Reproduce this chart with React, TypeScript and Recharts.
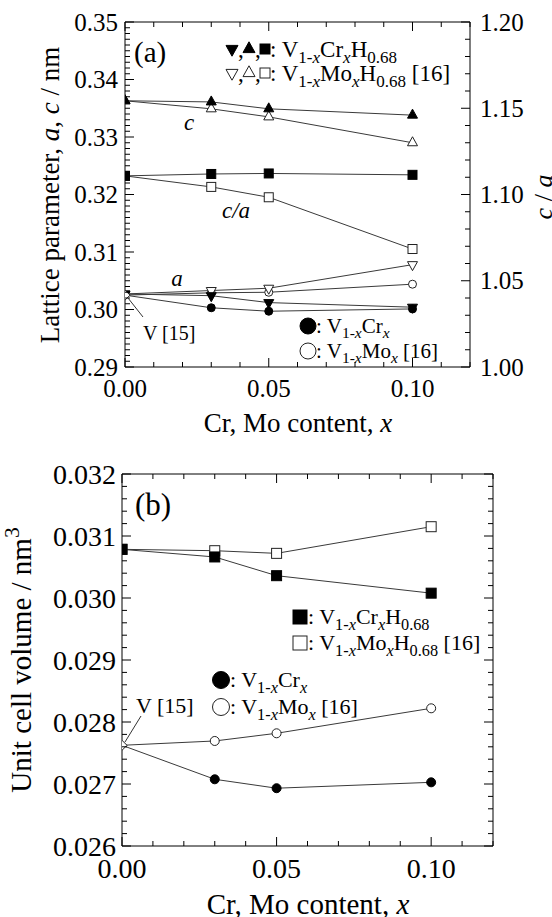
import React from 'react';
import { LineChart, Line, XAxis, YAxis } from 'recharts';

const FONT = 'Liberation Serif, Times New Roman, Times, serif';
const LINE = '#3a3a3a';

// ---------- shared x ----------
const contentX = [0, 0.03, 0.05, 0.1];
const xDomain: [number, number] = [0, 0.12];
const xMajor = [0, 0.05, 0.1];
const xMinorStep = 0.01;

// ---------- panel (a): lattice parameters ----------
const cCrH = [0.3363, 0.3361, 0.3349, 0.3338];
const cMoH = [0.3363, 0.3349, 0.3335, 0.329];
const caCrH = [1.1108, 1.1119, 1.1122, 1.1114];
const caMoH = [1.1108, 1.1044, 1.0984, 1.0684];
const aCrH = [0.3027, 0.3024, 0.3012, 0.3004];
const aMoH = [0.3027, 0.3033, 0.3037, 0.3078];
const aCr = [0.3025, 0.3003, 0.2997, 0.3001];
const aMo = [0.3025, 0.3029, 0.303, 0.3044];
const aPureV = 0.3025;
const aLeftMajor = [0.29, 0.3, 0.31, 0.32, 0.33, 0.34, 0.35];
const aLeftMinorStep = 0.001;
const aRightMajor = [1.0, 1.05, 1.1, 1.15, 1.2];
const aRightMinorStep = 0.01;

// ---------- panel (b): unit cell volume ----------
const vCrH = [0.030785, 0.030662, 0.03036, 0.030078];
const vMoH = [0.030785, 0.030763, 0.03072, 0.03115];
const vCr = [0.027624, 0.027076, 0.026932, 0.027027];
const vMo = [0.027624, 0.027694, 0.027818, 0.028221];
const vPureV = 0.027624;
const bLeftMajor = [0.026, 0.027, 0.028, 0.029, 0.03, 0.031, 0.032];
const bLeftMinorStep = 0.0002;

const range = (lo: number, hi: number, step: number) => {
  const out: number[] = [];
  const n = Math.round((hi - lo) / step);
  for (let i = 0; i <= n; i++) out.push(Number((lo + i * step).toFixed(6)));
  return out;
};

const dataA = contentX.map((x, i) => ({
  x,
  cCrH: cCrH[i],
  cMoH: cMoH[i],
  caCrH: caCrH[i],
  caMoH: caMoH[i],
  aCrH: aCrH[i],
  aMoH: aMoH[i],
  aCr: aCr[i],
  aMo: aMo[i],
  pure: i === 0 ? aPureV : null,
}));

const dataB = contentX.map((x, i) => ({
  x,
  vCrH: vCrH[i],
  vMoH: vMoH[i],
  vCr: vCr[i],
  vMo: vMo[i],
  pure: i === 0 ? vPureV : null,
}));

// ---------- markers ----------
type Shape = 'up' | 'down' | 'square' | 'circle' | 'diamond';
const Marker = ({ cx, cy, shape, filled, size }: any) => {
  const fill = filled ? '#000' : '#fff';
  const stroke = filled ? '#000' : '#222';
  const s = size;
  if (shape === 'square')
    return <rect x={cx - s / 2} y={cy - s / 2} width={s} height={s} fill={fill} stroke={stroke} strokeWidth={1} />;
  if (shape === 'circle') return <circle cx={cx} cy={cy} r={s / 2} fill={fill} stroke={stroke} strokeWidth={1} />;
  if (shape === 'diamond') {
    const r = s / 2;
    return (
      <polygon
        points={`${cx},${cy - r} ${cx + r},${cy} ${cx},${cy + r} ${cx - r},${cy}`}
        fill={fill}
        stroke={stroke}
        strokeWidth={1}
      />
    );
  }
  const h = s * 0.9;
  if (shape === 'up')
    return (
      <polygon
        points={`${cx},${cy - (h * 2) / 3} ${cx + s / 2},${cy + h / 3} ${cx - s / 2},${cy + h / 3}`}
        fill={fill}
        stroke={stroke}
        strokeWidth={1}
      />
    );
  return (
    <polygon
      points={`${cx},${cy + (h * 2) / 3} ${cx + s / 2},${cy - h / 3} ${cx - s / 2},${cy - h / 3}`}
      fill={fill}
      stroke={stroke}
      strokeWidth={1}
    />
  );
};

const dotR = (shape: Shape, filled: boolean, size: number, skipFirst = false) => (p: any) => {
  const key = `${shape}-${filled}-${p.index}-${p.dataKey}`;
  if (p.cx == null || p.cy == null || p.value == null || (skipFirst && p.index === 0)) return <g key={key} />;
  return (
    <g key={key}>
      <Marker cx={p.cx} cy={p.cy} shape={shape} filled={filled} size={size} />
    </g>
  );
};

// ---------- ticks ----------
const isMajor = (v: number, majors: number[]) => majors.some((m) => Math.abs(m - v) < 1e-9);

const makeTick =
  (side: 'bottom' | 'top' | 'left' | 'right', majors: number[], label: boolean, digits: number, fontSize: number, offset: number) =>
  (props: any) => {
    const { x, y, payload } = props;
    const v = payload.value;
    const major = isMajor(v, majors);
    const len = major ? 9 : 5;
    let x2 = x;
    let y2 = y;
    if (side === 'bottom') y2 = y - len;
    else if (side === 'top') y2 = y + len;
    else if (side === 'left') x2 = x + len;
    else x2 = x - len;
    let txt = null;
    if (label && major) {
      const s = v.toFixed(digits);
      if (side === 'bottom')
        txt = (
          <text x={x} y={y + offset} textAnchor="middle" fontFamily={FONT} fontSize={fontSize} fill="#000">
            {s}
          </text>
        );
      else if (side === 'left')
        txt = (
          <text x={x - offset} y={y + fontSize * 0.34} textAnchor="end" fontFamily={FONT} fontSize={fontSize} fill="#000">
            {s}
          </text>
        );
      else if (side === 'right')
        txt = (
          <text x={x + offset} y={y + fontSize * 0.34} textAnchor="start" fontFamily={FONT} fontSize={fontSize} fill="#000">
            {s}
          </text>
        );
    }
    return (
      <g>
        <line x1={x} y1={y} x2={x2} y2={y2} stroke="#000" strokeWidth={1} />
        {txt}
      </g>
    );
  };

// ---------- rich text ----------
type Seg = { t: string; sub?: boolean; sup?: boolean; it?: boolean };
const Rich = ({ x, y, size, segs, anchor = 'start', rotate, subScale = 0.74 }: any) => {
  let cur = 0;
  const kids = (segs as Seg[]).map((s, i) => {
    const target = s.sub ? size * 0.25 : s.sup ? -size * 0.4 : 0;
    const dy = target - cur;
    cur = target;
    return (
      <tspan key={i} dy={dy} fontSize={s.sub || s.sup ? size * subScale : size} fontStyle={s.it ? 'italic' : 'normal'}>
        {s.t}
      </tspan>
    );
  });
  return (
    <text
      x={x}
      y={y}
      fontFamily={FONT}
      fontSize={size}
      textAnchor={anchor}
      fill="#000"
      transform={rotate ? `rotate(${rotate.a} ${rotate.cx} ${rotate.cy})` : undefined}
    >
      {kids}
    </text>
  );
};

const segCrH: Seg[] = [
  { t: ': V' },
  { t: '1-', sub: true },
  { t: 'x', sub: true, it: true },
  { t: 'Cr' },
  { t: 'x', sub: true, it: true },
  { t: 'H' },
  { t: '0.68', sub: true },
];
const segMoH: Seg[] = [
  { t: ': V' },
  { t: '1-', sub: true },
  { t: 'x', sub: true, it: true },
  { t: 'Mo' },
  { t: 'x', sub: true, it: true },
  { t: 'H' },
  { t: '0.68', sub: true },
  { t: ' [16]' },
];
const segCr: Seg[] = [{ t: ': V' }, { t: '1-', sub: true }, { t: 'x', sub: true, it: true }, { t: 'Cr' }, { t: 'x', sub: true, it: true }];
const segMo: Seg[] = [
  { t: ': V' },
  { t: '1-', sub: true },
  { t: 'x', sub: true, it: true },
  { t: 'Mo' },
  { t: 'x', sub: true, it: true },
  { t: ' [16]' },
];

const Overlay = () => {
  const lg = 23;
  return (
    <svg width={552} height={917} style={{ position: 'absolute', left: 0, top: 0, pointerEvents: 'none' }}>
      {/* ----- panel (a) ----- */}
      <text x={134} y={62} fontFamily={FONT} fontSize={29} fill="#000">
        (a)
      </text>
      {/* legend line 1 */}
      <Marker cx={232} cy={49} shape="down" filled size={12} />
      <text x={238} y={57} fontFamily={FONT} fontSize={lg} fill="#000">,</text>
      <Marker cx={249} cy={49} shape="up" filled size={12} />
      <text x={255} y={57} fontFamily={FONT} fontSize={lg} fill="#000">,</text>
      <Marker cx={265} cy={49} shape="square" filled size={10} />
      <Rich x={270} y={57} size={lg} segs={segCrH} />
      {/* legend line 2 */}
      <Marker cx={232} cy={73} shape="down" filled={false} size={12} />
      <text x={238} y={81} fontFamily={FONT} fontSize={lg} fill="#000">,</text>
      <Marker cx={249} cy={73} shape="up" filled={false} size={12} />
      <text x={255} y={81} fontFamily={FONT} fontSize={lg} fill="#000">,</text>
      <Marker cx={265} cy={73} shape="square" filled={false} size={10} />
      <Rich x={270} y={81} size={lg} segs={segMoH} />
      {/* circle legends */}
      <Marker cx={308} cy={326} shape="circle" filled size={16} />
      <Rich x={316} y={333} size={21} segs={segCr} />
      <Marker cx={308} cy={351} shape="circle" filled={false} size={16} />
      <Rich x={316} y={358} size={21} segs={segMo} />
      {/* curve labels */}
      <text x={189} y={130} fontFamily={FONT} fontSize={23} fontStyle="italic" textAnchor="middle" fill="#000">c</text>
      <text x={236} y={218} fontFamily={FONT} fontSize={23} fontStyle="italic" textAnchor="middle" fill="#000">c/a</text>
      <text x={177} y={286} fontFamily={FONT} fontSize={23} fontStyle="italic" textAnchor="middle" fill="#000">a</text>
      {/* V [15] */}
      <line x1={128} y1={298} x2={143} y2={317} stroke="#333" strokeWidth={1} />
      <text x={143} y={340} fontFamily={FONT} fontSize={20} fill="#000">V [15]</text>
      {/* axis labels */}
      <Rich
        x={50}
        y={195 + 27 * 0.34}
        size={27}
        anchor="middle"
        rotate={{ a: -90, cx: 50, cy: 195 }}
        segs={[{ t: 'Lattice parameter, ' }, { t: 'a', it: true }, { t: ', ' }, { t: 'c', it: true }, { t: ' / nm' }]}
      />
      <Rich
        x={543}
        y={197 + 26 * 0.34}
        size={26}
        anchor="middle"
        rotate={{ a: -90, cx: 543, cy: 197 }}
        segs={[{ t: 'c', it: true }, { t: ' / ' }, { t: 'a', it: true }]}
      />
      <Rich x={298} y={432} size={27} anchor="middle" segs={[{ t: 'Cr, Mo content, ' }, { t: 'x', it: true }]} />

      {/* ----- panel (b) ----- */}
      <text x={135} y={515} fontFamily={FONT} fontSize={31} fill="#000">
        (b)
      </text>
      <Marker cx={300} cy={617} shape="square" filled size={14} />
      <Rich x={308} y={624} size={22} segs={segCrH} />
      <Marker cx={300} cy={643} shape="square" filled={false} size={14} />
      <Rich x={308} y={650} size={22} segs={segMoH} />
      <Marker cx={221} cy={680} shape="circle" filled size={17} />
      <Rich x={230} y={687} size={22} segs={segCr} />
      <Marker cx={221} cy={707} shape="circle" filled={false} size={17} />
      <Rich x={230} y={714} size={22} segs={segMo} />
      <line x1={125} y1={742} x2={141} y2={716} stroke="#333" strokeWidth={1} />
      <text x={136} y={713} fontFamily={FONT} fontSize={22} fill="#000">V [15]</text>
      <Rich
        x={21}
        y={660 + 29 * 0.34}
        size={29}
        anchor="middle"
        rotate={{ a: -90, cx: 21, cy: 660 }}
        segs={[{ t: 'Unit cell volume / nm' }, { t: '3', sup: true }]}
      />
      <Rich x={308} y={914} size={29} anchor="middle" segs={[{ t: 'Cr, Mo content, ' }, { t: 'x', it: true }]} />
    </svg>
  );
};

const axisLineStyle = { stroke: '#000', strokeWidth: 1 };

const PanelA = () => {
  const xTicks = range(xDomain[0], xDomain[1], xMinorStep);
  const lTicks = range(0.29, 0.35, aLeftMinorStep);
  const rTicks = range(1.0, 1.2, aRightMinorStep);
  return (
    <LineChart width={552} height={460} data={dataA} margin={{ top: 21, right: 81, bottom: 92, left: 124 }}>
      <XAxis
        xAxisId="b"
        dataKey="x"
        type="number"
        domain={xDomain}
        ticks={xTicks}
        interval={0}
        height={1}
        tickSize={0}
        tickMargin={0}
        tickLine={false}
        axisLine={axisLineStyle}
        tick={makeTick('bottom', xMajor, true, 2, 25, 30)}
        allowDataOverflow
      />
      <XAxis
        xAxisId="t"
        dataKey="x"
        orientation="top"
        type="number"
        domain={xDomain}
        ticks={xTicks}
        interval={0}
        height={1}
        tickSize={0}
        tickMargin={0}
        tickLine={false}
        axisLine={axisLineStyle}
        tick={makeTick('top', xMajor, false, 2, 25, 0)}
        allowDataOverflow
      />
      <YAxis
        yAxisId="l"
        type="number"
        domain={[0.29, 0.35]}
        ticks={lTicks}
        interval={0}
        width={1}
        tickSize={0}
        tickMargin={0}
        tickLine={false}
        axisLine={axisLineStyle}
        tick={makeTick('left', aLeftMajor, true, 2, 25, 7)}
        allowDataOverflow
      />
      <YAxis
        yAxisId="r"
        orientation="right"
        type="number"
        domain={[1.0, 1.2]}
        ticks={rTicks}
        interval={0}
        width={1}
        tickSize={0}
        tickMargin={0}
        tickLine={false}
        axisLine={axisLineStyle}
        tick={makeTick('right', aRightMajor, true, 2, 25, 10)}
        allowDataOverflow
      />
      <Line xAxisId="b" yAxisId="l" dataKey="cMoH" stroke={LINE} strokeWidth={1} dot={dotR('up', false, 10)} activeDot={false} isAnimationActive={false} />
      <Line xAxisId="b" yAxisId="l" dataKey="cCrH" stroke={LINE} strokeWidth={1} dot={dotR('up', true, 10)} activeDot={false} isAnimationActive={false} />
      <Line xAxisId="b" yAxisId="r" dataKey="caMoH" stroke={LINE} strokeWidth={1} dot={dotR('square', false, 9)} activeDot={false} isAnimationActive={false} />
      <Line xAxisId="b" yAxisId="r" dataKey="caCrH" stroke={LINE} strokeWidth={1} dot={dotR('square', true, 9)} activeDot={false} isAnimationActive={false} />
      <Line xAxisId="b" yAxisId="l" dataKey="aMo" stroke={LINE} strokeWidth={1} dot={dotR('circle', false, 8, true)} activeDot={false} isAnimationActive={false} />
      <Line xAxisId="b" yAxisId="l" dataKey="aMoH" stroke={LINE} strokeWidth={1} dot={dotR('down', false, 10)} activeDot={false} isAnimationActive={false} />
      <Line xAxisId="b" yAxisId="l" dataKey="aCr" stroke={LINE} strokeWidth={1} dot={dotR('circle', true, 8, true)} activeDot={false} isAnimationActive={false} />
      <Line xAxisId="b" yAxisId="l" dataKey="aCrH" stroke={LINE} strokeWidth={1} dot={dotR('down', true, 10)} activeDot={false} isAnimationActive={false} />
      <Line xAxisId="b" yAxisId="l" dataKey="pure" stroke={LINE} strokeWidth={1} dot={dotR('diamond', false, 10)} activeDot={false} isAnimationActive={false} />
    </LineChart>
  );
};

const PanelB = () => {
  const xTicks = range(xDomain[0], xDomain[1], xMinorStep);
  const lTicks = range(0.026, 0.032, bLeftMinorStep);
  return (
    <LineChart width={552} height={457} data={dataB} margin={{ top: 13, right: 58, bottom: 70, left: 121 }}>
      <XAxis
        xAxisId="b"
        dataKey="x"
        type="number"
        domain={xDomain}
        ticks={xTicks}
        interval={0}
        height={1}
        tickSize={0}
        tickMargin={0}
        tickLine={false}
        axisLine={axisLineStyle}
        tick={makeTick('bottom', xMajor, true, 2, 28, 32)}
        allowDataOverflow
      />
      <XAxis
        xAxisId="t"
        dataKey="x"
        orientation="top"
        type="number"
        domain={xDomain}
        ticks={xTicks}
        interval={0}
        height={1}
        tickSize={0}
        tickMargin={0}
        tickLine={false}
        axisLine={axisLineStyle}
        tick={makeTick('top', xMajor, false, 2, 28, 0)}
        allowDataOverflow
      />
      <YAxis
        yAxisId="l"
        type="number"
        domain={[0.026, 0.032]}
        ticks={lTicks}
        interval={0}
        width={1}
        tickSize={0}
        tickMargin={0}
        tickLine={false}
        axisLine={axisLineStyle}
        tick={makeTick('left', bLeftMajor, true, 3, 28, 6)}
        allowDataOverflow
      />
      <YAxis
        yAxisId="r"
        orientation="right"
        type="number"
        domain={[0.026, 0.032]}
        ticks={lTicks}
        interval={0}
        width={1}
        tickSize={0}
        tickMargin={0}
        tickLine={false}
        axisLine={axisLineStyle}
        tick={makeTick('right', bLeftMajor, false, 3, 28, 0)}
        allowDataOverflow
      />
      <Line xAxisId="b" yAxisId="l" dataKey="vMoH" stroke={LINE} strokeWidth={1} dot={dotR('square', false, 10)} activeDot={false} isAnimationActive={false} />
      <Line xAxisId="b" yAxisId="l" dataKey="vCrH" stroke={LINE} strokeWidth={1} dot={dotR('square', true, 10)} activeDot={false} isAnimationActive={false} />
      <Line xAxisId="b" yAxisId="l" dataKey="vMo" stroke={LINE} strokeWidth={1} dot={dotR('circle', false, 9, true)} activeDot={false} isAnimationActive={false} />
      <Line xAxisId="b" yAxisId="l" dataKey="vCr" stroke={LINE} strokeWidth={1} dot={dotR('circle', true, 9, true)} activeDot={false} isAnimationActive={false} />
      <Line xAxisId="b" yAxisId="l" dataKey="pure" stroke={LINE} strokeWidth={1} dot={dotR('diamond', false, 10)} activeDot={false} isAnimationActive={false} />
    </LineChart>
  );
};

export default function App() {
  return (
    <div style={{ position: 'absolute', left: 0, top: 0, width: 552, height: 917, background: '#fff', overflow: 'hidden' }}>
      <div style={{ position: 'absolute', left: 0, top: 0 }}>
        <PanelA />
      </div>
      <div style={{ position: 'absolute', left: 0, top: 460 }}>
        <PanelB />
      </div>
      <Overlay />
    </div>
  );
}
